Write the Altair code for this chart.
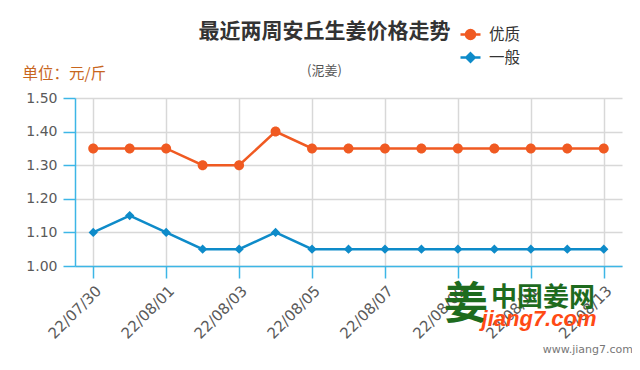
import altair as alt
import pandas as pd

dates = ["22/07/30", "22/07/31", "22/08/01", "22/08/02", "22/08/03", "22/08/04",
         "22/08/05", "22/08/06", "22/08/07", "22/08/08", "22/08/09", "22/08/10",
         "22/08/11", "22/08/12", "22/08/13"]
premium = [1.35, 1.35, 1.35, 1.30, 1.30, 1.40, 1.35, 1.35, 1.35, 1.35, 1.35, 1.35, 1.35, 1.35, 1.35]
normal = [1.10, 1.15, 1.10, 1.05, 1.05, 1.10, 1.05, 1.05, 1.05, 1.05, 1.05, 1.05, 1.05, 1.05, 1.05]
series = ["优质", "一般"]
label_dates = dates[::2]
y_ticks = [1.0, 1.1, 1.2, 1.3, 1.4, 1.5]

rows = []
for d, a, b in zip(dates, premium, normal):
    rows.append({"date": d, "series": series[0], "price": a})
    rows.append({"date": d, "series": series[1], "price": b})
df = pd.DataFrame(rows)

ORANGE = "#F05A22"
BLUE = "#0E8BC9"
AXIS = "#3DB6E6"
CJK = "Noto Sans CJK SC"
LAT = "DejaVu Sans"

circle_path = "M-1,0L1,0M0.45,0A0.45,0.45,0,1,1,-0.45,0A0.45,0.45,0,1,1,0.45,0Z"
diamond_path = "M-1,0L1,0M0,-0.42L0.42,0L0,0.42L-0.42,0Z"

x_enc = alt.X("date:O", sort=dates,
              scale=alt.Scale(type="point", padding=0.5),
              axis=alt.Axis(values=label_dates, labelAngle=-45, title=None,
                            domainColor=AXIS, domainWidth=1.5, tickColor=AXIS,
                            tickWidth=1.5, tickSize=12, labelFont=LAT,
                            labelFontSize=15, labelColor="#5A5A5A", labelPadding=5,
                            grid=True, gridColor="#D8D8D8", gridWidth=1.5))
y_enc = alt.Y("price:Q",
              scale=alt.Scale(domain=[1.0, 1.5], nice=False, zero=False),
              axis=alt.Axis(values=y_ticks, format=".2f", title="单位：元/斤",
                            titleAngle=0, titleAlign="left", titleBaseline="middle",
                            titleX=-53, titleY=-25, titleFont=CJK, titleFontSize=15.5,
                            titleFontWeight="normal", titleColor="#C8661E",
                            domainColor=AXIS, domainWidth=1.5, tickColor=AXIS,
                            tickWidth=1.5, tickSize=12, labelFont=LAT,
                            labelFontSize=14, labelColor="#5A5A5A", labelPadding=6,
                            grid=True, gridColor="#D8D8D8", gridWidth=1.5))

color_scale = alt.Scale(domain=series, range=[ORANGE, BLUE])
shape_scale = alt.Scale(domain=series, range=[circle_path, diamond_path])


def leg():
    return alt.Legend(title=None, orient="none", legendX=384, legendY=-75,
                      symbolSize=400, symbolStrokeWidth=2.5, labelFont=CJK,
                      labelFontSize=15.5, labelColor="#333333", rowPadding=2,
                      padding=0, labelOffset=7)


lines = alt.Chart(df).mark_line(strokeWidth=2.5).encode(
    x=x_enc, y=y_enc,
    stroke=alt.Stroke("series:N", scale=color_scale, legend=leg()),
)

points = alt.Chart(df).mark_point(filled=True, opacity=1, size=490).encode(
    x=x_enc, y=y_enc,
    fill=alt.Fill("series:N", scale=color_scale, legend=leg()),
    shape=alt.Shape("series:N", scale=shape_scale, legend=leg()),
)

wm = pd.DataFrame({"t": ["x"]})
logo = alt.Chart(wm).mark_text(text="姜", font=CJK, fontSize=44, fontWeight="bold",
                               color="#1E6B1E").encode(x=alt.value(391), y=alt.value(208))
wm1 = alt.Chart(wm).mark_text(text="中国姜网", font=CJK, fontSize=26, fontWeight="bold",
                              color="#1E6B1E").encode(x=alt.value(468), y=alt.value(200))
wm2 = alt.Chart(wm).mark_text(text="jiang7.com", font="Liberation Sans", fontSize=22,
                              fontWeight="bold", fontStyle="italic",
                              color="#FF4A14").encode(x=alt.value(464), y=alt.value(221))
wm3 = alt.Chart(wm).mark_text(text="www.jiang7.com", font=LAT, fontSize=11, align="right",
                              color="#777777").encode(x=alt.value(558), y=alt.value(252))

chart = alt.layer(lines, points, logo, wm1, wm2, wm3).properties(
    width=547, height=168,
    title=alt.TitleParams(text="最近两周安丘生姜价格走势", subtitle="(泥姜)",
                          anchor="middle", dx=-24, dy=55, font=CJK, fontSize=21,
                          fontWeight="bold", color="#333333", subtitleFont=CJK,
                          subtitleFontSize=13, subtitleColor="#555555",
                          subtitlePadding=23, offset=0),
    autosize=alt.AutoSizeParams(type="none"),
    padding={"left": 67, "top": 90, "right": 10, "bottom": 96},
).configure_view(stroke=None)

chart.save("out.html", embed_options={"renderer": "svg", "actions": False})
